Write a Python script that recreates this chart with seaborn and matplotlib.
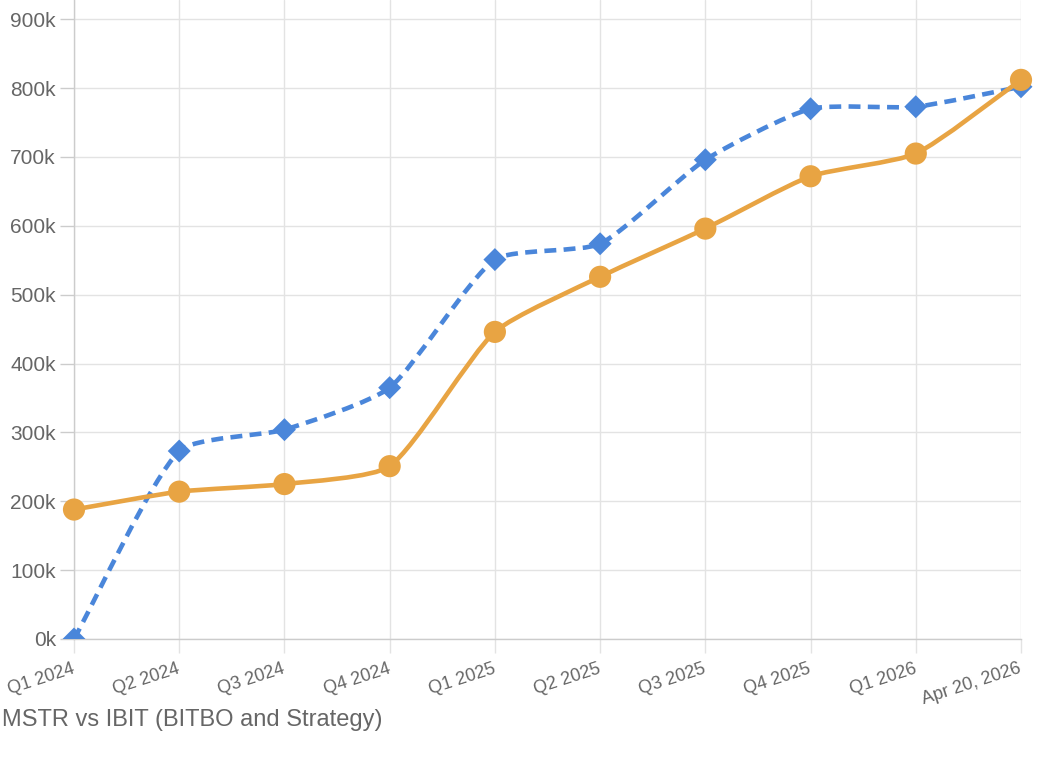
import matplotlib
matplotlib.use("Agg")
import numpy as np
import pandas as pd
import seaborn as sns
import matplotlib.pyplot as plt
from matplotlib.path import Path
from matplotlib.patches import PathPatch, Rectangle

periods = ["Q1 2024", "Q2 2024", "Q3 2024", "Q4 2024", "Q1 2025",
           "Q2 2025", "Q3 2025", "Q4 2025", "Q1 2026", "Apr 20, 2026"]
ibit_btc = [0, 273000, 304000, 365000, 551000, 574000, 696000, 770000, 773000, 802000]
mstr_btc = [188000, 214000, 225000, 251000, 446000, 526000, 596000, 672000, 705000, 812000]
y_ticks = [0, 100000, 200000, 300000, 400000, 500000, 600000, 700000, 800000, 900000]
caption = "MSTR vs IBIT (BITBO and Strategy)"

BLUE = "#4a86da"
ORANGE = "#e8a443"
GRID = "#e3e3e3"
TXT = "#666666"
TENSION = 0.2

sns.set_theme(style="white")
plt.rcParams["font.family"] = ["Liberation Sans", "DejaVu Sans"]


def tension_path(ax, xs, ys, t=TENSION):
    """Cardinal-style spline (as Chart.js 'tension'), computed in display space
    through the axes transform and mapped back to data coordinates."""
    pts = ax.transData.transform(np.column_stack([xs, ys]).astype(float))
    n = len(pts)
    prev_cp = [None] * n
    next_cp = [None] * n
    for i in range(n):
        cur = pts[i]
        prv = pts[i - 1] if i > 0 else cur
        nxt = pts[i + 1] if i < n - 1 else cur
        d01 = np.hypot(*(cur - prv))
        d12 = np.hypot(*(nxt - cur))
        tot = d01 + d12
        s01 = d01 / tot if tot else 0.0
        s12 = d12 / tot if tot else 0.0
        prev_cp[i] = cur - t * s01 * (nxt - prv)
        next_cp[i] = cur + t * s12 * (nxt - prv)
    verts = [pts[0]]
    codes = [Path.MOVETO]
    for i in range(1, n):
        verts += [next_cp[i - 1], prev_cp[i], pts[i]]
        codes += [Path.CURVE4] * 3
    inv = ax.transData.inverted()
    return Path(inv.transform(np.array(verts)), codes)


df = pd.DataFrame({"period": periods, "IBIT": ibit_btc, "MSTR": mstr_btc})
xpos = list(range(len(periods)))

fig = plt.figure(figsize=(10.4, 7.72), dpi=100)
ax = fig.add_axes([74 / 1040, 1 - 639 / 772, (1021 - 74) / 1040, 639 / 772])
ax.set_xlim(0, len(periods) - 1)
ax.set_ylim(0, 928000)

# blue dashed series with diamonds
ax.add_patch(PathPatch(tension_path(ax, xpos, ibit_btc), fill=False, edgecolor=BLUE,
                       lw=3.3, linestyle=(0, (2.6, 1.6)), capstyle="butt", zorder=3))
sns.scatterplot(data=df, x="period", y="IBIT", marker="D", s=137, color=BLUE,
                edgecolor="none", linewidth=0, ax=ax, zorder=4)
blue_markers = ax.collections[-1]
blue_markers.set_clip_path(Rectangle((-0.05, 0), 1.1, 1.5, transform=ax.transAxes))

# orange solid series with circles
ax.add_patch(PathPatch(tension_path(ax, xpos, mstr_btc), fill=False, edgecolor=ORANGE,
                       lw=3.3, capstyle="round", joinstyle="round", zorder=5))
sns.scatterplot(data=df, x="period", y="MSTR", marker="o", s=255, color=ORANGE,
                edgecolor="none", linewidth=0, ax=ax, zorder=6, clip_on=False)

ax.set_xlim(0, len(periods) - 1)
ax.set_ylim(0, 928000)
ax.set_yticks(y_ticks)
ax.set_yticklabels([f"{v // 1000}k" for v in y_ticks])
ax.set_xticks(xpos)
ax.set_xticklabels(periods, rotation=18, ha="right", va="center",
                   rotation_mode="anchor")

ax.grid(True, color=GRID, lw=1.0)
ax.set_axisbelow(True)
for s in ["top", "right"]:
    ax.spines[s].set_visible(False)
for s in ["left", "bottom"]:
    ax.spines[s].set_color("#cccccc")
    ax.spines[s].set_linewidth(1.0)

ax.tick_params(axis="y", length=10, width=1, color="#cccccc", labelsize=15,
               labelcolor=TXT, pad=3, left=True)
ax.tick_params(axis="x", length=10, width=1, color=GRID, labelsize=13,
               labelcolor=TXT, pad=11, bottom=True)
ax.set_xlabel("")
ax.set_ylabel("")

fig.text(2 / 1040, 1 - 720 / 772, caption, fontsize=17, color=TXT,
         ha="left", va="center")

fig.savefig("out.png", dpi=100)
